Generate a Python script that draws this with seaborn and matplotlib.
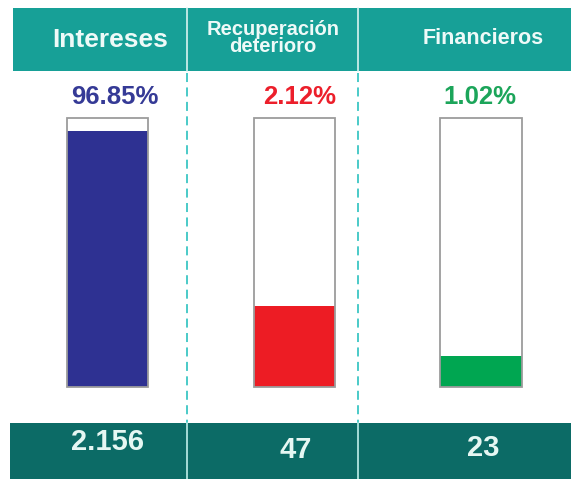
import numpy as np
import pandas as pd
import matplotlib.pyplot as plt
import seaborn as sns
from matplotlib.patches import Rectangle
from matplotlib.lines import Line2D

# Data
categories = ["Intereses", "Recuperación deterioro", "Financieros"]
header_labels = ["Intereses", "Recuperación\ndeterioro", "Financieros"]
percent_labels = ["96.85%", "2.12%", "1.02%"]
amounts = ["2.156", "47", "23"]
fill_level = [95.2, 30.1, 11.5]   # visual fill of each tube (% of the box)
box_level = [100, 100, 100]

bar_colors = ["#2e3192", "#ed1c24", "#00a651"]
text_colors = ["#353a96", "#ec1f2b", "#1ca55a"]

W, H = 571, 479

sns.set_theme(style="white")
plt.rcParams['font.family'] = ['Liberation Sans', 'DejaVu Sans']

fig = plt.figure(figsize=(W / 100, H / 100), dpi=100)
ax = fig.add_axes([0, 0, 1, 1])

df = pd.DataFrame({"cat": categories, "fill": fill_level, "box": box_level})

sns.barplot(data=df, x="cat", y="fill", hue="cat", palette=bar_colors,
            saturation=1, width=0.434, linewidth=0, legend=False, ax=ax)
sns.barplot(data=df, x="cat", y="box", fill=False, color="#9c9c9c",
            saturation=1, width=0.434, linewidth=1.3, ax=ax)

ax.set_xlim(-0.5757, 2.482)
ax.set_ylim(-34.2, 143.9)
ax.axis("off")


def fx(x):
    return x / W


def fy(y):
    return 1 - y / H


# header band and bottom band
fig.add_artist(Rectangle((fx(13), fy(71)), fx(W - 13), (71 - 8) / H,
                         transform=fig.transFigure, color="#17a097", lw=0))
fig.add_artist(Rectangle((fx(10), fy(H)), fx(W - 10), (H - 423) / H,
                         transform=fig.transFigure, color="#0c6b66", lw=0))

# column separators
for xs in [187, 358]:
    fig.add_artist(Line2D([fx(xs), fx(xs)], [fy(8), fy(71)], transform=fig.transFigure,
                          color="#d8f4f1", lw=1.2))
    fig.add_artist(Line2D([fx(xs), fx(xs)], [fy(73), fy(423)], transform=fig.transFigure,
                          color="#3cc6c4", lw=1.3, ls=(0, (5, 3))))
    fig.add_artist(Line2D([fx(xs), fx(xs)], [fy(423), fy(H)], transform=fig.transFigure,
                          color="#bfeee9", lw=1.2))

# header labels
header_x = [110, 273, 483]
header_y = [40, 38, 38]
header_size = [19, 14.5, 15.5]
for lab, x, y, s in zip(header_labels, header_x, header_y, header_size):
    fig.text(fx(x), fy(y), lab, ha="center", va="center", color="#eefaf8",
             fontsize=s, fontweight="bold", linespacing=0.85)

# percentage labels
pct_x = [115, 300, 480]
for lab, x, c in zip(percent_labels, pct_x, text_colors):
    fig.text(fx(x), fy(97), lab, ha="center", va="center", color=c,
             fontsize=18.5, fontweight="bold")

# amounts
amt_x = [107, 296, 483]
amt_y = [442, 450, 448]
for lab, x, y in zip(amounts, amt_x, amt_y):
    fig.text(fx(x), fy(y), lab, ha="center", va="center", color="#e6f7f3",
             fontsize=21, fontweight="bold")

fig.savefig("out.png", dpi=100)
